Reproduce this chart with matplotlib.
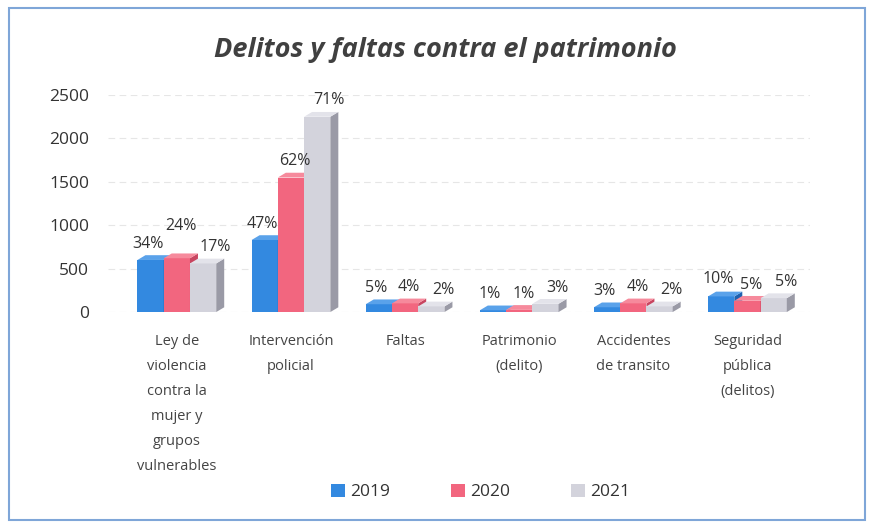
import numpy as np
import matplotlib.pyplot as plt
from matplotlib.patches import Polygon, Rectangle

# data
categorias = ['Ley de\nviolencia\ncontra la\nmujer y\ngrupos\nvulnerables',
              'Intervención\npolicial', 'Faltas', 'Patrimonio\n(delito)',
              'Accidentes\nde transito', 'Seguridad\npública\n(delitos)']
anios = ['2019', '2020', '2021']
v2019 = [600, 830, 90, 20, 55, 180]
v2020 = [620, 1550, 100, 25, 100, 130]
v2021 = [560, 2250, 65, 95, 65, 160]
p2019 = ['34%', '47%', '5%', '1%', '3%', '10%']
p2020 = ['24%', '62%', '4%', '1%', '4%', '5%']
p2021 = ['17%', '71%', '2%', '3%', '2%', '5%']

colores = ['#3389e0', '#f2667f', '#d3d3dc']
lados = ['#1f62b0', '#c84560', '#9a9aa6']
topes = ['#5aa2ea', '#f68a9c', '#e3e3ea']

plt.rcParams['font.family'] = ['Open Sans', 'DejaVu Sans']

fig = plt.figure(figsize=(8.74, 5.28), dpi=100)
ax = fig.add_axes([0.124, 0.409, 0.803, 0.411])

x = np.arange(len(categorias))
w = 0.23
dx = 0.07
dy = 55

series = [v2019, v2020, v2021]
etiquetas = [p2019, p2020, p2021]
# small label nudges so crowded labels do not collide (x in bar units, y in data)
nudge_x = [-0.06, 0.0, 0.07]
nudge_y = {(0, 1): 180, (5, 0): 10}

for j in range(3):
    xs = x - w + j * w
    ax.bar(xs, series[j], width=w, color=colores[j], zorder=3 + j, label=anios[j])
    for i in range(len(x)):
        h = series[j][i]
        l = xs[i] - w / 2
        r = xs[i] + w / 2
        side = Polygon([(r, 0), (r, h), (r + dx, h + dy), (r + dx, dy)],
                       closed=True, facecolor=lados[j], edgecolor='none',
                       zorder=3 + j, clip_on=False)
        top = Polygon([(l, h), (r, h), (r + dx, h + dy), (l + dx, h + dy)],
                      closed=True, facecolor=topes[j], edgecolor='none',
                      zorder=3 + j, clip_on=False)
        ax.add_patch(side)
        ax.add_patch(top)
        ax.text(xs[i] + dx / 2 + nudge_x[j], h + dy + 40 + nudge_y.get((i, j), 0),
                etiquetas[j][i], ha='center', va='bottom', fontsize=11.5,
                color='#333333', zorder=10)

ax.set_xlim(-0.6, 5.55)
ax.set_ylim(0, 2500)
ax.set_yticks(np.arange(0, 2501, 500))
ax.set_xticks(x)
ax.set_xticklabels(categorias, fontsize=10.5, color='#444444', linespacing=1.9)
ax.tick_params(axis='y', labelsize=12.5, colors='#333333', length=0, pad=14)
ax.tick_params(axis='x', length=0, pad=16)
ax.grid(axis='y', color='#e6e6e6', linestyle=(0, (6, 4)), linewidth=0.8, zorder=0)
for s in ax.spines.values():
    s.set_visible(False)

fig.text(0.51, 0.905, 'Delitos y faltas contra el patrimonio', ha='center',
         va='center', fontsize=19.5, fontstyle='italic', fontweight='bold',
         color='#404040')

leg = fig.legend(loc='center', bbox_to_anchor=(0.55, 0.068), ncol=3,
                 frameon=False, fontsize=12.5, handlelength=0.8,
                 handleheight=0.8, columnspacing=3.5, handletextpad=0.3)
for t in leg.get_texts():
    t.set_color('#333333')

fig.patches.append(Rectangle((0.01, 0.015), 0.98, 0.97, transform=fig.transFigure,
                             fill=False, edgecolor='#7fa6d8', linewidth=1.5))

fig.savefig('out.png', dpi=100)
